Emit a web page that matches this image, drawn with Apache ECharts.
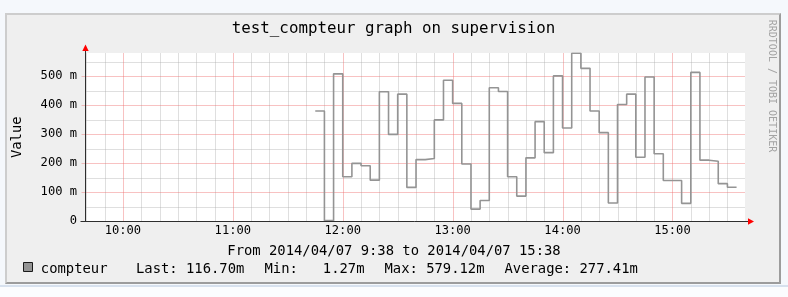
<!DOCTYPE html>
<html>
<head>
<meta charset="utf-8">
<script src="https://cdn.jsdelivr.net/npm/echarts@6/dist/echarts.min.js"></script>
<style>
html,body{margin:0;padding:0;background:#f5f8fc;}
#page{position:relative;width:788px;height:297px;overflow:hidden;}
#box{position:absolute;left:5px;top:13px;width:772px;height:267px;background:#efefef;
  border-top:2px solid #cdcdcd;border-left:2px solid #cdcdcd;border-right:2px solid #9c9c9c;border-bottom:2px solid #9c9c9c;}
#sep{position:absolute;left:0;top:285px;width:788px;height:2px;background:#d7e1ee;}
#low{position:absolute;left:0;top:287px;width:788px;height:10px;background:#fbfcfe;}
#chart{position:absolute;left:0;top:0;width:788px;height:297px;}
</style>
</head>
<body>
<div id="page">
  <div id="box"></div>
  <div id="sep"></div>
  <div id="low"></div>
  <div id="chart"></div>
</div>
<script>
// ---------- data ----------
const titleText = 'test_compteur graph on supervision';
const seriesName = 'compteur';
const yAxisTitle = 'Value';
// start time of each 5-minute step
const stepTimes = [
  '11:45','11:50','11:55','12:00','12:05','12:10','12:15','12:20','12:25','12:30','12:35','12:40',
  '12:45','12:50','12:55','13:00','13:05','13:10','13:15','13:20','13:25','13:30','13:35','13:40',
  '13:45','13:50','13:55','14:00','14:05','14:10','14:15','14:20','14:25','14:30','14:35','14:40',
  '14:45','14:50','14:55','15:00','15:05','15:10','15:15','15:20','15:25','15:30'
];
const stepEnd = '15:35';
// values in milli-units (m)
const compteurValues = [
  380, 1.27, 508, 153, 199, 191, 141, 446, 299, 438, 116, 212,
  216, 349, 486, 406, 197, 41, 71, 460, 447, 153, 86, 218,
  343, 236, 501, 321, 579.12, 527, 380, 305, 62, 402, 438, 220,
  497, 232, 140, 140, 61, 513, 210, 206, 129, 116.70
];
const hourTicks = ['10:00','11:00','12:00','13:00','14:00','15:00'];
const yTickLabels = ['0','100 m','200 m','300 m','400 m','500 m'];
const periodText = 'From 2014/04/07 9:38 to 2014/04/07 15:38';
const legendStats = ['Last: 116.70m', 'Min:   1.27m', 'Max: 579.12m', 'Average: 277.41m'];
const watermarkText = 'RRDTOOL / TOBI OETIKER';

// ---------- layout / style ----------
const X_MIN = 579.3, X_MAX = 939.6;   // minutes since midnight (9:39 .. 15:39)
const Y_MAX = 580;
const MONO = '"DejaVu Sans Mono", monospace';
const RED = 'rgba(238,110,110,0.42)';
const GREY = 'rgba(170,170,170,0.38)';
const LINE = '#949494';
const AXIS = '#2e2e2e';

const toMin = s => { const p = s.split(':').map(Number); return p[0] * 60 + p[1]; };
const points = stepTimes.map((t, i) => [toMin(t), compteurValues[i]]);
points.push([toMin(stepEnd), compteurValues[compteurValues.length - 1]]);
const hourVals = hourTicks.map(toMin);
const tenMinVals = [];
for (let m = Math.ceil(X_MIN / 10) * 10; m < X_MAX; m += 10) if (m % 60 !== 0) tenMinVals.push(m);
const yMajorVals = yTickLabels.map((_, i) => i * 100);
const yMinorVals = [];
for (let v = 50; v < Y_MAX; v += 100) yMinorVals.push(v);

const labelFont = {fontFamily: MONO, fontSize: 12.1, color: '#000'};

const chart = echarts.init(document.getElementById('chart'), null, {renderer: 'canvas'});
chart.setOption({
  animation: false,
  backgroundColor: 'transparent',
  grid: {left: 85, right: 43, top: 53, bottom: 76, show: true, backgroundColor: '#ffffff', borderWidth: 0, containLabel: false, outerBoundsMode: 'none'},
  xAxis: {
    type: 'value', min: X_MIN, max: X_MAX,
    axisLine: {show: false},
    axisTick: {show: false, customValues: hourVals},
    axisLabel: Object.assign({
      customValues: hourVals, margin: 4,
      formatter: v => { const i = hourVals.indexOf(Math.round(v)); return i >= 0 ? hourTicks[i] : ''; }
    }, labelFont),
    splitLine: {show: false}
  },
  yAxis: {
    type: 'value', min: 0, max: Y_MAX,
    axisLine: {show: false},
    axisTick: {show: false, customValues: yMajorVals},
    axisLabel: Object.assign({
      customValues: yMajorVals, margin: 8,
      formatter: v => { const i = yMajorVals.indexOf(Math.round(v)); return i >= 0 ? yTickLabels[i] : ''; }
    }, labelFont),
    splitLine: {show: false}
  },
  series: [{
    name: seriesName, type: 'line', step: 'end', data: points,
    showSymbol: false, symbol: 'none',
    lineStyle: {color: LINE, width: 1.6}, itemStyle: {color: LINE}, z: 3
  }]
});

// grid lines, axes and texts placed from the axis scales
const px = v => chart.convertToPixel({xAxisIndex: 0}, v);
const py = v => chart.convertToPixel({yAxisIndex: 0}, v);
const crisp = v => Math.round(v) + 0.5;
const ax = crisp(px(X_MIN)), ay = crisp(py(0));
const rx = px(X_MAX), ty = Math.round(py(Y_MAX));

function seg(x1, y1, x2, y2, color, z) {
  return {type: 'line', z: z, silent: true, shape: {x1: x1, y1: y1, x2: x2, y2: y2},
          style: {stroke: color, lineWidth: 1}};
}
function txt(x, y, text, size, opts) {
  opts = opts || {};
  return {
    type: 'text', x: x, y: y, rotation: opts.rotation || 0, z: 100, silent: true,
    style: {text: text, font: size + 'px ' + MONO, fill: opts.fill || '#000',
            align: opts.align || 'left', verticalAlign: 'middle'}
  };
}

const gridLines = []
  .concat(tenMinVals.map(m => { const x = crisp(px(m)); return seg(x, ty, x, ay - 0.5, GREY, 1); }))
  .concat(yMinorVals.map(v => { const y = crisp(py(v)); return seg(ax, y, rx, y, GREY, 1); }))
  .concat(hourVals.map(m => { const x = crisp(px(m)); return seg(x, ty, x, ay - 0.5, RED, 2); }))
  .concat(yMajorVals.filter(v => v > 0).map(v => { const y = crisp(py(v)); return seg(ax - 4, y, rx, y, RED, 2); }));

const legendX = [136, 264.5, 384.5, 504.5];
const graphics = gridLines.concat([
  // axes
  seg(ax - 5, ay, rx + 3, ay, AXIS, 90),
  seg(ax, ay, ax, ty - 2, AXIS, 90),
  {type: 'polygon', z: 91, silent: true, shape: {points: [[rx + 3, ay - 3.2], [rx + 3, ay + 3.2], [rx + 9, ay]]}, style: {fill: '#ff0000'}},
  {type: 'polygon', z: 91, silent: true, shape: {points: [[ax - 3.2, ty - 2], [ax + 3.2, ty - 2], [ax, ty - 8.5]]}, style: {fill: '#ff0000'}},
  // texts
  txt(393.5, 28.5, titleText, 15.8, {align: 'center'}),
  txt(17.5, (ay + ty) / 2, yAxisTitle, 13.85, {align: 'center', rotation: Math.PI / 2}),
  txt(394, 251.5, periodText, 13.85, {align: 'center'}),
  txt(772, 86, watermarkText, 10, {align: 'center', rotation: -Math.PI / 2, fill: '#a3a3a3'}),
  // legend
  {type: 'rect', z: 100, silent: true, shape: {x: 23.5, y: 262.5, width: 9, height: 9}, style: {fill: LINE, stroke: '#1a1a1a', lineWidth: 1}},
  txt(40.8, 269.5, seriesName, 13.85)
]).concat(legendStats.map((s, i) => txt(legendX[i], 269.5, s, 13.85)));

chart.setOption({graphic: graphics});
</script>
</body>
</html>
